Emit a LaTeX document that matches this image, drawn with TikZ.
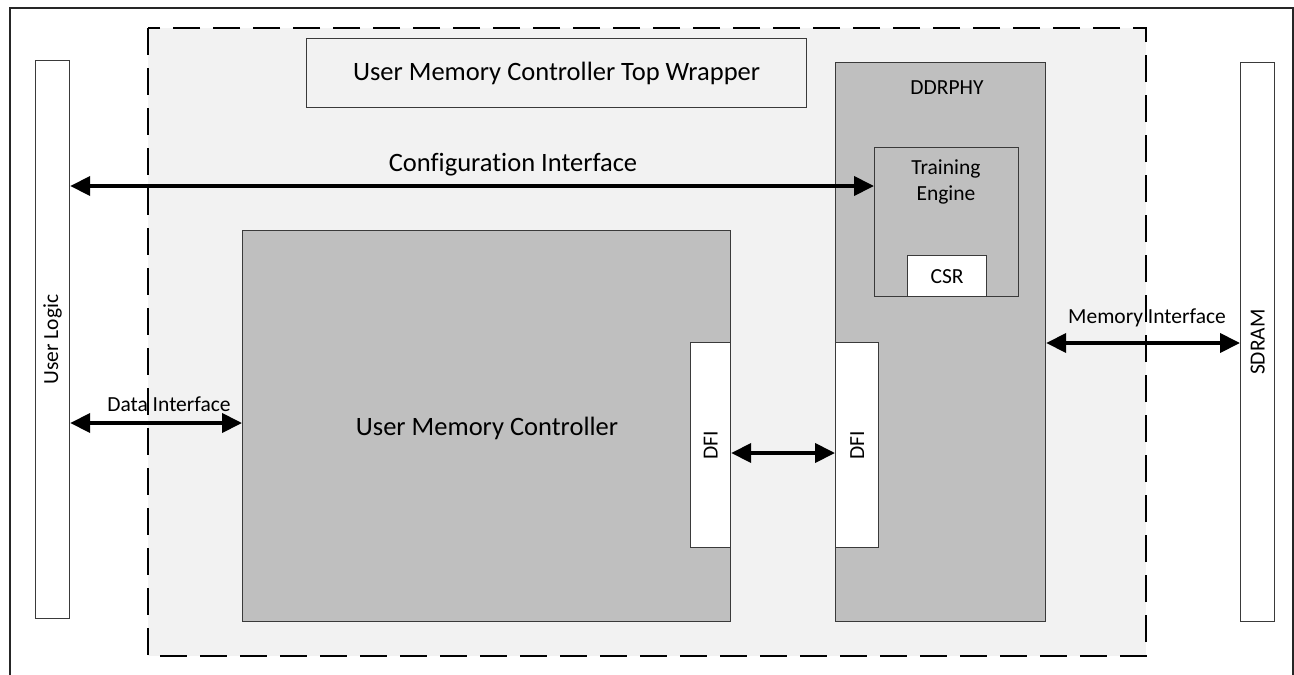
\documentclass[tikz,border=0pt]{standalone}
\usepackage{fontspec}
\setmainfont{Carlito}[Ligatures=NoCommon]
\usetikzlibrary{arrows.meta}
\definecolor{wrapfill}{HTML}{F2F2F2}
\definecolor{blockfill}{HTML}{BFBFBF}
\definecolor{edge}{HTML}{3A3A3A}
\tikzset{
  blk/.style={draw=edge, line width=1.2pt, inner sep=0pt, anchor=north west},
  bigtext/.style={font=\fontsize{26.5}{30}\selectfont},
  smalltext/.style={font=\fontsize{21.5}{25.5}\selectfont},
  biarrow/.style={line width=4pt, {Triangle[length=20pt,width=19pt]}-{Triangle[length=20pt,width=19pt]}},
}
\begin{document}
\begin{tikzpicture}[x=1pt, y=-1pt]
\useasboundingbox (0,0) rectangle (1294,675);
% outer frame (runs past the lower edge)
\draw[black!85, line width=1.6pt] (10,700) -- (10,8) -- (1293,8) -- (1293,700);

% top wrapper region
\draw[black, line width=2pt, fill=wrapfill, dash pattern=on 27pt off 13pt]
  (148,28) rectangle (1146,656);

% side blocks
\node[blk, fill=white, minimum width=34pt, minimum height=558pt] (ul) at (35,60) {};
\node[smalltext, rotate=90] (ultext) at (ul.center) {User Logic};
\node[blk, fill=white, minimum width=34pt, minimum height=559pt] (sdram) at (1240,62) {};
\node[smalltext, rotate=90] (sdtext) at (sdram.center) {SDRAM};

% wrapper title
\node[blk, fill=wrapfill, minimum width=500pt, minimum height=69pt, bigtext] (title) at (306,38) {};
\node[bigtext] (titletext) at (title.center) {User Memory Controller Top Wrapper};

% user memory controller
\node[blk, fill=blockfill, minimum width=488pt, minimum height=391pt] (umc) at (242,230) {};
\node[bigtext] (umctext) at (487,428) {User Memory Controller};
\node[blk, fill=white, minimum width=40pt, minimum height=205pt] (dfil) at (690,342) {};
\node[smalltext, rotate=90] (dfiltext) at (dfil.center) {DFI};

% DDR PHY
\node[blk, fill=blockfill, minimum width=210pt, minimum height=559pt] (phy) at (835,62) {};
\node[smalltext] (phytext) at (947,88) {DDRPHY};
\node[blk, fill=blockfill, minimum width=144pt, minimum height=149pt] (te) at (874,147) {};
\node[smalltext, align=center] (tetext) at (946,182) {Training\\Engine};
\node[blk, fill=white, minimum width=79pt, minimum height=41pt] (csr) at (907,255) {};
\node[smalltext] (csrtext) at (csr.center) {CSR};
\node[blk, fill=white, minimum width=43pt, minimum height=205pt] (dfir) at (835,342) {};
\node[smalltext, rotate=90] (dfirtext) at (dfir.center) {DFI};

% interfaces
\coordinate (cfgy) at (0,186);
\coordinate (datay) at (0,423);
\coordinate (memy) at (0,343);
\coordinate (dfiy) at (0,453);
\draw[biarrow] (ul.east |- cfgy) -- (te.west |- cfgy);
\node[bigtext] (cfgtext) at (513,165) {Configuration Interface};
\draw[biarrow] (ul.east |- datay) -- (umc.west |- datay);
\node[smalltext] (datatext) at (169,404) {Data Interface};
\draw[biarrow] (phy.east |- memy) -- (sdram.west |- memy);
\node[smalltext] (memtext) at (1147,318) {Memory Interface};
\draw[biarrow] (dfil.east |- dfiy) -- (dfir.west |- dfiy);
\end{tikzpicture}
\end{document}
